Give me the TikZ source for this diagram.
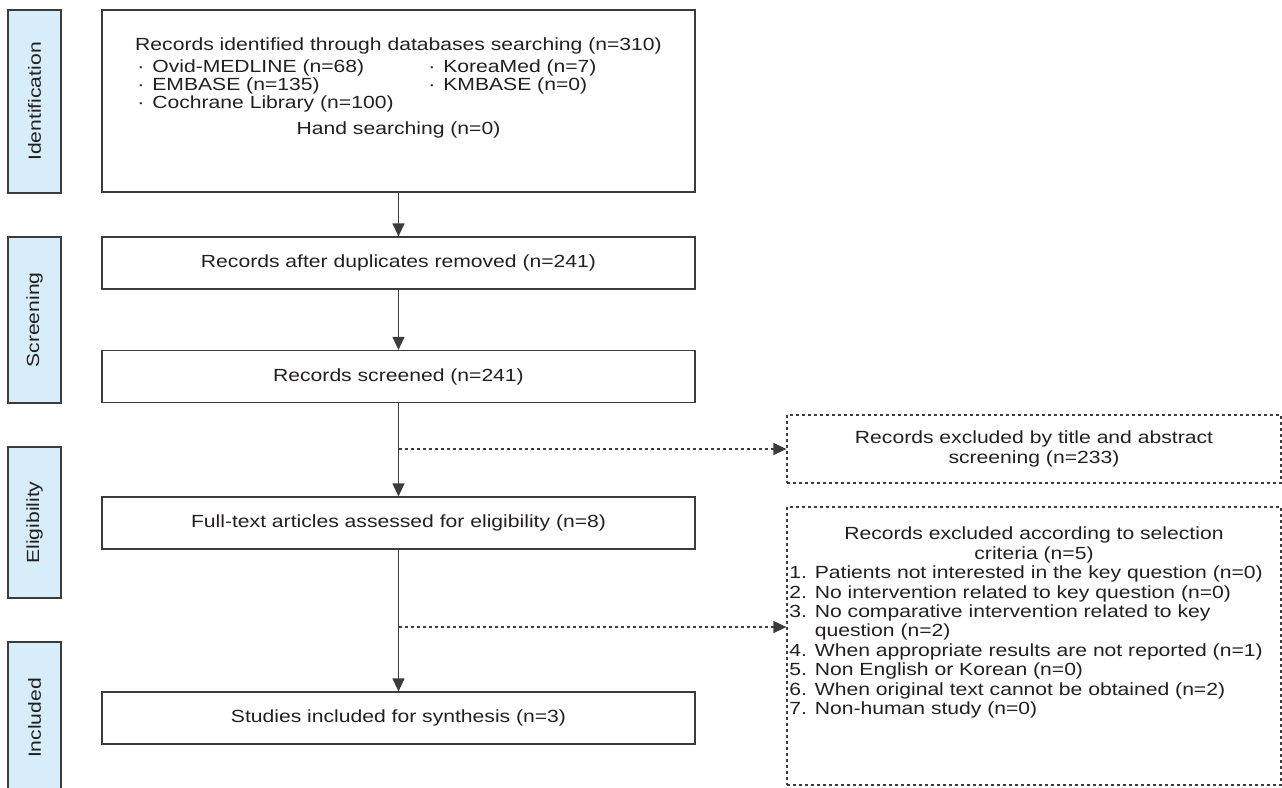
\documentclass[tikz,border=0pt]{standalone}
\usepackage{fontspec}
\setmainfont{Liberation Sans}[FakeStretch=1.2]
\usetikzlibrary{arrows.meta}
\definecolor{phasefill}{RGB}{215,237,250}
\definecolor{edgegray}{RGB}{60,60,60}
\definecolor{ink}{RGB}{35,31,32}
\begin{document}
\begin{tikzpicture}[x=0.5pt,y=-0.5pt,
  every node/.style={font=\fontsize{8.8}{9.7}\selectfont,text=ink,inner sep=0pt},
  phase/.style={draw=edgegray,fill=phasefill,line width=0.6pt,rotate=90,minimum height=26.5pt},
  box/.style={draw=edgegray,line width=0.6pt,minimum width=296.5pt,minimum height=26pt},
  xbox/.style={draw=edgegray,line width=0.6pt,dash pattern=on 1.5pt off 1.5pt,minimum width=247pt},
  arr/.style={draw=edgegray,line width=0.6pt,-{Triangle[length=6.5pt,width=6pt]}},
  darr/.style={arr,dash pattern=on 1.5pt off 1.5pt}]
\clip (0,0) rectangle (1282,788);
% phases
\node[phase,minimum width=91.5pt] (idlab) at (34.5,101.5) {Identification};
\node[phase,minimum width=83pt] (scrlab) at (34.5,320) {Screening};
\node[phase,minimum width=75.5pt] (elilab) at (34.5,522.5) {Eligibility};
\node[phase,minimum width=76pt] (inclab) at (34.5,718) {Included};
% main column
\node[box,minimum height=91pt] (ident) at (398.5,101) {};
\node (identtitle) at (398.5,45.5) {Records identified through databases searching (n=310)};
\node[anchor=west] (ovid) at (137,68) {·\hspace{0.45em}Ovid-MEDLINE (n=68)};
\node[anchor=west] (embase) at (137,86) {·\hspace{0.45em}EMBASE (n=135)};
\node[anchor=west] (cochrane) at (137,104) {·\hspace{0.45em}Cochrane Library (n=100)};
\node[anchor=west] (koreamed) at (428,68) {·\hspace{0.45em}KoreaMed (n=7)};
\node[anchor=west] (kmbase) at (428,86) {·\hspace{0.45em}KMBASE (n=0)};
\node (hand) at (398.5,130) {Hand searching (n=0)};
\node[box] (dups) at (398.5,263) {Records after duplicates removed (n=241)};
\node[box] (screen) at (398.5,376.5) {Records screened (n=241)};
\node[box] (fulltext) at (398.5,523) {Full-text articles assessed for eligibility (n=8)};
\node[box] (studies) at (398.5,718) {Studies included for synthesis (n=3)};
% excluded
\node[xbox,minimum height=34pt,align=center] (excl1) at (1034,449)
  {Records excluded by title and abstract\\screening (n=233)};
\node[xbox,minimum height=139pt] (excl2) at (1034,646) {};
\node[anchor=north,align=center] (excl2title) at (1034,526.5)
  {Records excluded according to selection\\criteria (n=5)};
\node[anchor=north west,align=left] (excl2list) at (789,565.5)
  {1. Patients not interested in the key question (n=0)\\
   2. No intervention related to key question (n=0)\\
   3. No comparative intervention related to key\\
   \phantom{3. }question (n=2)\\
   4. When appropriate results are not reported (n=1)\\
   5. Non English or Korean (n=0)\\
   6. When original text cannot be obtained (n=2)\\
   7. Non-human study (n=0)};
\coordinate (b1) at (screen.south |- excl1.west);
\coordinate (b2) at (398.5,627);
\path
  (ident) edge[arr] (dups)
  (dups) edge[arr] (screen)
  (screen) edge[arr] (fulltext)
  (fulltext) edge[arr] (studies)
  (b1) edge[darr] (excl1.west)
  (b2) edge[darr] (b2 -| excl2.west)
;
\end{tikzpicture}
\end{document}
